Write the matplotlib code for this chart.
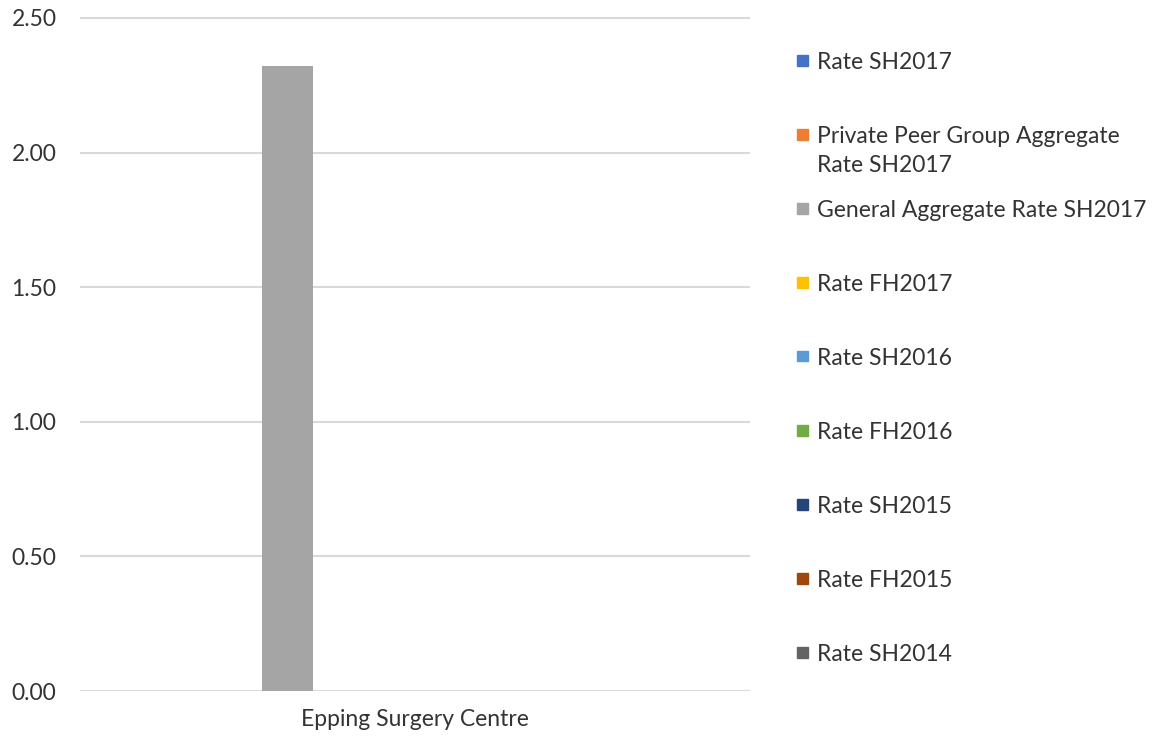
import matplotlib
matplotlib.use("Agg")
import matplotlib.pyplot as plt
import numpy as np

plt.rcParams['font.family'] = ['Lato', 'DejaVu Sans']

categories = ["Epping Surgery Centre"]
series = ["Rate SH2017", "Private Peer Group Aggregate\nRate SH2017",
          "General Aggregate Rate SH2017", "Rate FH2017", "Rate SH2016",
          "Rate FH2016", "Rate SH2015", "Rate FH2015", "Rate SH2014"]
values = [0, 0, 2.32, 0, 0, 0, 0, 0, 0]
colors = ["#4472c4", "#ed7d31", "#a5a5a5", "#ffc000", "#5b9bd5",
          "#70ad47", "#264478", "#9e480e", "#636363"]

W, H = 1159, 740
fig = plt.figure(figsize=(W / 100, H / 100), dpi=100)
ax = fig.add_axes([80 / W, 1 - 691 / H, 670 / W, (691 - 10) / H])

w = 51 / 670
x = np.arange(len(categories))
for i, (v, c) in enumerate(zip(values, colors)):
    ax.bar(x + (i - 4.5) * w, v, width=w, color=c, align='center', zorder=3)

ax.set_xlim(-0.5, 0.5)
ax.set_ylim(0, 2.5 * 681 / 673)
ax.set_yticks(np.arange(0, 2.51, 0.5))
ax.set_yticklabels([f"{t:.2f}" for t in np.arange(0, 2.51, 0.5)])
ax.set_xticks(x)
ax.set_xticklabels(categories)
ax.yaxis.grid(True, color="#d9d9d9", linewidth=1.5, zorder=0)
for s in ax.spines.values():
    s.set_visible(False)
ax.tick_params(length=0, labelsize=16.5, colors="#333333")
ax.tick_params(axis='y', pad=17)
ax.tick_params(axis='x', pad=13)

# legend drawn by hand so the spacing matches the original
for k, (lab, c) in enumerate(zip(series, colors)):
    yc = 60 + 74 * k
    fig.patches.append(plt.Rectangle((797 / W, 1 - (yc + 5.5) / H), 11 / W, 11 / H,
                                     color=c, transform=fig.transFigure, figure=fig))
    fig.text(817 / W, 1 - (yc - 8) / H, lab, fontsize=16.5, color="#333333",
             va='top', ha='left', linespacing=1.45)

fig.savefig("out.png", dpi=100)
